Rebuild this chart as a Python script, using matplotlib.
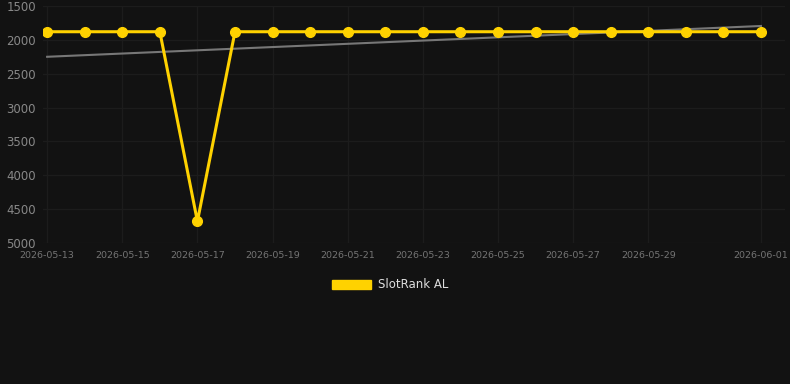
'''
Rank history chart for SlotRank AL with a linear trend line.
'''
import datetime
import numpy as np
import matplotlib
matplotlib.use('Agg')
import matplotlib.pyplot as plt
import matplotlib.dates as mdates
from matplotlib.patches import Patch

start = datetime.date(2026, 5, 13)
dates = [start + datetime.timedelta(days=i) for i in range(20)]
ranks = [1880, 1880, 1880, 1880, 4680, 1880, 1880, 1880, 1880, 1880,
         1880, 1880, 1880, 1880, 1880, 1880, 1880, 1880, 1880, 1880]
trend_ends = [2250, 1795]
tick_dates = ['2026-05-13', '2026-05-15', '2026-05-17', '2026-05-19',
              '2026-05-21', '2026-05-23', '2026-05-25', '2026-05-27',
              '2026-05-29', '2026-06-01']
y_ticks = [1500, 2000, 2500, 3000, 3500, 4000, 4500, 5000]

bg = '#121212'
fig = plt.figure(figsize=(7.9, 3.84), dpi=100, facecolor=bg)
ax = fig.add_axes([43 / 790, 1 - 243 / 384, 742 / 790, 237 / 384])
ax.set_facecolor(bg)

x = mdates.date2num(dates)
ax.plot([x[0], x[-1]], trend_ends, color='#777777', linewidth=1.5, zorder=2)
ax.plot(x, ranks, color='#FFD200', linewidth=2.2, marker='o',
        markersize=7, zorder=3)

ax.set_ylim(5000, 1500)
ax.set_yticks(y_ticks)
ax.set_xlim(x[0] - 0.11, x[-1] + 0.64)
ticks = [mdates.date2num(datetime.date.fromisoformat(t)) for t in tick_dates]
ax.set_xticks(ticks)
ax.set_xticklabels(tick_dates)

ax.grid(True, color='#1c1c1c', linewidth=1)
ax.set_axisbelow(True)
for side in ax.spines.values():
    side.set_visible(False)
ax.tick_params(axis='y', colors='#888888', labelsize=8.5, length=0, pad=5)
ax.tick_params(axis='x', colors='#747474', labelsize=6.8, length=0, pad=6)

handle = Patch(facecolor='#FFD200', edgecolor='#FFD200')
fig.legend([handle], ['SlotRank AL'], loc='center', bbox_to_anchor=(390 / 790, 1 - 285 / 384),
           frameon=False, labelcolor='#dddddd', fontsize=8.5,
           handlelength=3.3, handleheight=0.9, handletextpad=0.6)

fig.savefig('out.png', dpi=100, facecolor=bg)
